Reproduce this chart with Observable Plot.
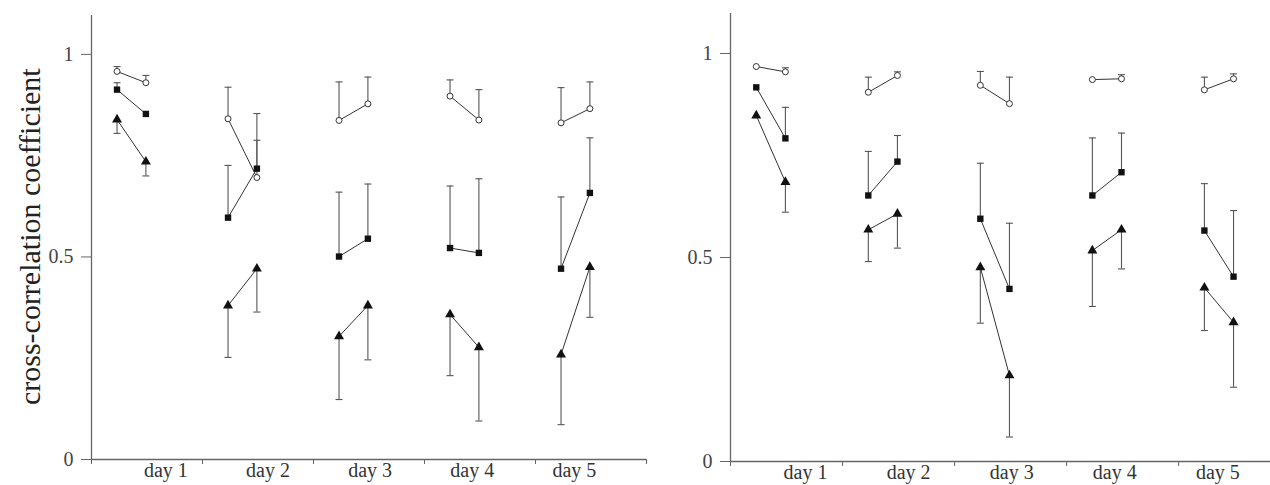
<!DOCTYPE html>
<html>
<head>
<meta charset="utf-8">
<script src="https://cdn.jsdelivr.net/npm/d3@7"></script>
<script src="https://cdn.jsdelivr.net/npm/@observablehq/plot@0.6"></script>
<style>
  html, body { margin: 0; padding: 0; background: #fff; }
  #wrap { display: flex; flex-direction: row; width: 1270px; height: 485px; overflow: hidden; }
</style>
</head>
<body>
<div id="wrap"></div>
<script>
// ---------- data ----------
const days = ["day 1", "day 2", "day 3", "day 4", "day 5"];
const yTicks = [0, 0.5, 1];
const yLabel = "cross-correlation coefficient";

// two values per day (first, second) in day order
const leftCircle       = [0.958, 0.930, 0.841, 0.696, 0.837, 0.878, 0.897, 0.838, 0.831, 0.866];
const leftCircleErr    = [0.970, 0.948, 0.919, 0.788, 0.932, 0.944, 0.937, 0.913, 0.918, 0.932];
const leftSquare       = [0.913, 0.853, 0.597, 0.718, 0.501, 0.545, 0.522, 0.510, 0.471, 0.658];
const leftSquareErr    = [0.930, 0.853, 0.726, 0.854, 0.660, 0.680, 0.675, 0.693, 0.648, 0.794];
const leftTriangle     = [0.839, 0.735, 0.380, 0.471, 0.304, 0.380, 0.358, 0.277, 0.259, 0.475];
const leftTriangleErr  = [0.805, 0.700, 0.252, 0.364, 0.148, 0.246, 0.207, 0.095, 0.086, 0.351];

const rightCircle      = [0.968, 0.955, 0.905, 0.946, 0.922, 0.877, 0.936, 0.938, 0.911, 0.938];
const rightCircleErr   = [0.968, 0.965, 0.942, 0.955, 0.956, 0.942, 0.936, 0.948, 0.942, 0.950];
const rightSquare      = [0.917, 0.792, 0.652, 0.735, 0.595, 0.423, 0.652, 0.709, 0.566, 0.453];
const rightSquareErr   = [0.917, 0.868, 0.760, 0.799, 0.731, 0.584, 0.793, 0.805, 0.681, 0.615];
const rightTriangle    = [0.848, 0.685, 0.568, 0.607, 0.476, 0.211, 0.517, 0.568, 0.426, 0.341];
const rightTriangleErr = [0.848, 0.611, 0.490, 0.523, 0.339, 0.060, 0.380, 0.472, 0.321, 0.182];

// ---------- helpers ----------
const pairOffsets = [-0.27, -0.01];
function rows(vals, errs, series) {
  return vals.map((v, i) => {
    const day = Math.floor(i / 2) + 1;
    return { x: day + pairOffsets[i % 2], y: v, e: errs[i], series, group: series + day };
  });
}
const capSymbol = {
  draw(context, size) {
    const r = Math.sqrt(size / Math.PI);
    context.moveTo(-r, 0);
    context.lineTo(r, 0);
  }
};

function panel({ circle, circleErr, square, squareErr, tri, triErr, width, marginLeft, marginRight,
                 marginTop, marginBottom, xDomain, yDomain, xTicks, showLabel }) {
  const circ = rows(circle, circleErr, "circle");
  const sq = rows(square, squareErr, "square");
  const tr = rows(tri, triErr, "triangle");
  const all = [...circ, ...sq, ...tr];
  const withErr = all.filter(d => Math.abs(d.e - d.y) > 0.004);
  const marks = [
    Plot.ruleY([0], { stroke: "#666", strokeWidth: 1.3 }),
    Plot.ruleX([0.5], { stroke: "#666", strokeWidth: 1.3 }),
    Plot.axisY(yTicks, { tickSize: 10, tickPadding: 8, stroke: "#666", fill: "#444", fontSize: 20, label: null, tickFormat: d => String(d) }),
    Plot.axisX(xTicks, { tickSize: 5, stroke: "#666", label: null, tickFormat: () => "" }),
    Plot.text(days, { x: (d, i) => 1.17 + i * 0.92, y: 0, dy: 3, lineAnchor: "top", text: d => d, fill: "#333", fontSize: 20 }),
    Plot.line(all, { x: "x", y: "y", z: "group", stroke: "#333", strokeWidth: 1 }),
    Plot.ruleX(withErr, { x: "x", y1: "y", y2: "e", stroke: "#555", strokeWidth: 1.1 }),
    Plot.dot(withErr, { x: "x", y: "e", symbol: capSymbol, r: 3.5, stroke: "#555", strokeWidth: 1.1 }),
    Plot.dot(circ, { x: "x", y: "y", symbol: "circle", r: 3, fill: "#fff", stroke: "#333", strokeWidth: 1 }),
    Plot.dot(sq, { x: "x", y: "y", symbol: "square", r: 3.6, fill: "#111", stroke: "none" }),
    Plot.dot(tr, { x: "x", y: "y", symbol: "triangle", r: 3.7, fill: "#111", stroke: "none" })
  ];
  if (showLabel) {
    marks.push(Plot.text([yLabel], { x: () => 0.5, y: () => 0.55, dx: -61, rotate: -90, textAnchor: "middle", lineAnchor: "middle", text: d => d, fontSize: 30, fill: "#222" }));
  }
  return Plot.plot({
    width, height: 485,
    marginLeft, marginRight, marginTop, marginBottom,
    x: { domain: xDomain, axis: null },
    y: { domain: yDomain, axis: null },
    style: { fontFamily: "'Liberation Serif', 'DejaVu Serif', serif", background: "#fff", overflow: "visible" },
    marks
  });
}

const wrap = document.getElementById("wrap");
wrap.appendChild(panel({
  circle: leftCircle, circleErr: leftCircleErr, square: leftSquare, squareErr: leftSquareErr,
  tri: leftTriangle, triErr: leftTriangleErr,
  width: 660, marginLeft: 91, marginRight: 14, marginTop: 15, marginBottom: 26,
  xDomain: [0.5, 5.5], yDomain: [0, 1.096], xTicks: [0.5, 1.5, 2.5, 3.5, 4.5, 5.5], showLabel: true
}));
wrap.appendChild(panel({
  circle: rightCircle, circleErr: rightCircleErr, square: rightSquare, squareErr: rightSquareErr,
  tri: rightTriangle, triErr: rightTriangleErr,
  width: 610, marginLeft: 70, marginRight: 0, marginTop: 13, marginBottom: 24,
  xDomain: [0.5, 5.32], yDomain: [0, 1.098], xTicks: [0.5, 1.5, 2.5, 3.5, 4.5], showLabel: false
}));
</script>
</body>
</html>
